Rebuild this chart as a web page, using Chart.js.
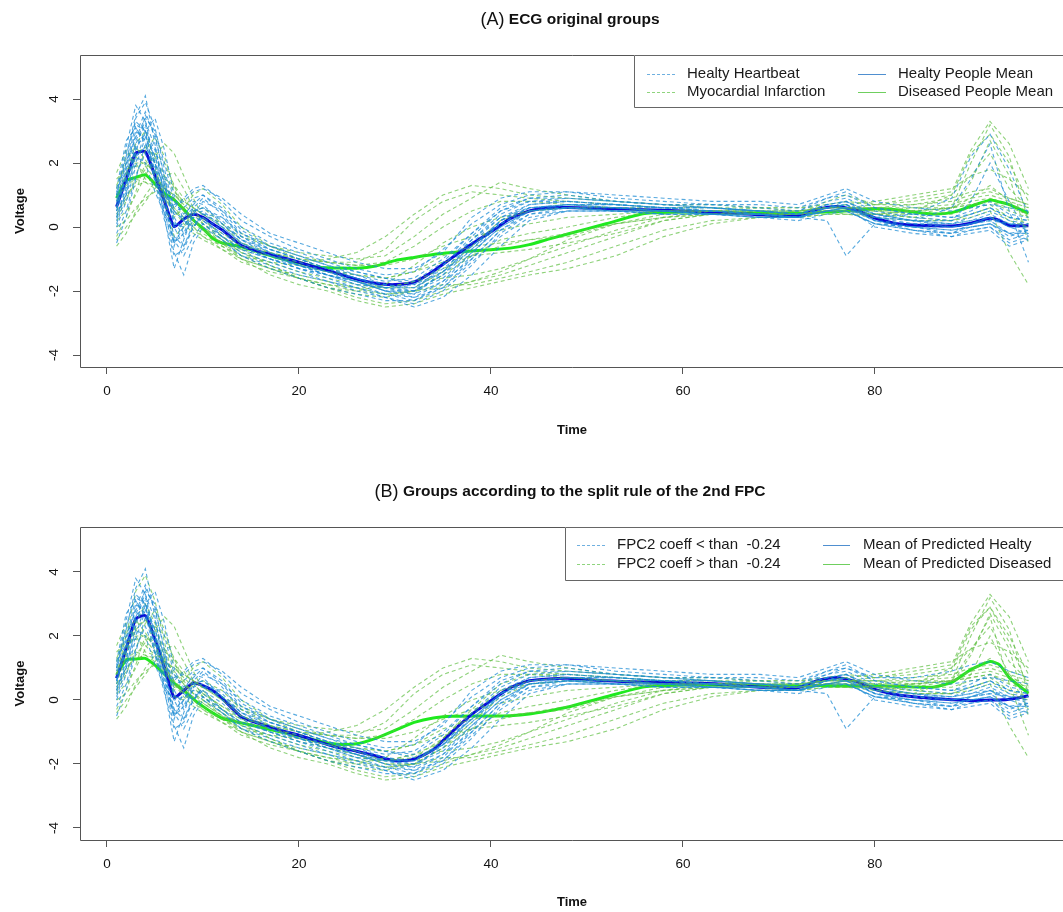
<!DOCTYPE html>
<html>
<head>
<meta charset="utf-8">
<title>ECG groups</title>
<script src="https://cdn.jsdelivr.net/npm/chart.js@4.4.1/dist/chart.umd.min.js"></script>
<style>
  html, body { margin: 0; padding: 0; background: #fff; }
  .panel { position: relative; width: 1063px; height: 456px; }
</style>
</head>
<body>
<div class="panel"><canvas id="chartA"></canvas></div>
<div class="panel"><canvas id="chartB"></canvas></div>
<script>
const timeKnots = [1, 2, 3, 4, 5, 6, 7, 8, 9, 10, 12, 14, 17, 20, 23, 26, 29, 32, 35, 38,
  41, 44, 48, 53, 58, 63, 68, 72, 75, 77, 80, 84, 88, 90, 92, 94, 96];

// individual heartbeats (voltage at each time knot)
const beatH1 = [0.9, 2.2, 3.5, 4.1, 2.6, 0.9, -0.6, 0.3, 0.8, 0.7, 0.1, -0.4, -0.8, -1.1, -1.4, -1.7, -2.0, -2.1, -1.4, -0.4,
  0.4, 0.8, 0.9, 0.8, 0.7, 0.6, 0.5, 0.4, 0.7, 0.8, 0.4, 0.2, 0.1, 0.3, 0.5, 0.2, 0.1];
const beatH2 = [0.3, 1.2, 2.6, 3.2, 1.9, 0.3, -1.3, -0.4, 0.4, 0.5, 0.0, -0.5, -0.9, -1.2, -1.5, -1.8, -2.1, -2.3, -1.8, -0.9,
  0.2, 0.6, 0.7, 0.6, 0.6, 0.5, 0.4, 0.3, 0.6, 0.7, 0.2, -0.1, -0.2, 0.0, 0.1, -0.3, -0.1];
const beatH3 = [1.2, 2.7, 3.1, 2.6, 1.8, 1.0, 0.5, 0.6, 0.9, 1.0, 0.6, -0.1, -0.6, -0.9, -1.2, -1.5, -1.7, -1.6, -1.0, -0.2,
  0.5, 0.9, 1.0, 0.8, 0.7, 0.7, 0.6, 0.5, 0.8, 0.9, 0.5, 0.3, 0.2, 0.4, 0.6, 0.3, 0.2];
const beatH4 = [0.0, 0.8, 1.9, 2.8, 2.2, 1.0, -0.3, -0.6, 0.1, 0.3, -0.3, -0.8, -1.1, -1.4, -1.7, -1.9, -2.2, -2.4, -2.0, -1.2,
  -0.2, 0.4, 0.6, 0.5, 0.5, 0.4, 0.3, 0.3, 0.5, 0.6, 0.0, -0.2, -0.3, -0.1, 0.0, -0.5, -0.3];
const beatH5 = [0.6, 1.7, 2.9, 3.6, 2.8, 1.6, 0.3, -0.2, 0.5, 0.6, 0.2, -0.4, -0.7, -1.0, -1.3, -1.5, -1.8, -1.9, -1.3, -0.6,
  0.1, 0.6, 0.7, 0.7, 0.6, 0.5, 0.5, 0.4, 0.7, 0.6, 0.3, 0.1, 0.1, 0.2, 0.3, 0.0, 0.0];
const beatH6 = [0.8, 1.5, 2.2, 2.5, 2.0, 1.2, 0.4, 0.3, 0.6, 0.4, 0.0, -0.5, -0.9, -1.2, -1.4, -1.6, -1.9, -1.8, -1.2, -0.4,
  0.3, 0.6, 0.7, 0.6, 0.5, 0.4, 0.4, 0.3, 0.5, 0.6, 0.3, 0.4, 0.9, 2.2, 2.9, 1.8, 0.4];
const beatH7 = [-0.2, 0.5, 1.6, 2.3, 1.5, 0.5, -0.8, -1.5, -0.5, 0.0, -0.4, -0.9, -1.2, -1.5, -1.7, -2.0, -2.2, -2.5, -2.2, -1.5,
  -0.6, 0.2, 0.5, 0.5, 0.4, 0.4, 0.3, 0.2, 0.4, 0.5, 0.1, -0.1, -0.2, -0.1, 0.0, -0.4, -0.2];
const beatH8 = [1.0, 2.5, 3.8, 3.3, 2.0, 1.2, 0.6, 0.9, 1.2, 1.3, 0.8, 0.2, -0.3, -0.7, -1.0, -1.3, -1.5, -1.4, -0.7, 0.1,
  0.7, 1.0, 1.1, 0.9, 0.8, 0.7, 0.7, 0.6, 0.9, 1.1, 0.6, 0.4, 0.3, 0.5, 0.8, 0.4, 0.3];
const beatH9 = [0.5, 1.4, 2.4, 3.0, 2.4, 1.3, 0.1, 0.0, 0.3, 0.2, -0.2, -0.6, -1.0, -1.3, -1.5, -1.7, -2.0, -2.0, -1.5, -0.7,
  0.1, 0.5, 0.6, 0.6, 0.5, 0.5, 0.4, 0.3, 0.6, 0.7, 0.3, 0.2, 0.6, 1.5, 2.6, 0.5, -1.1];
const beatH10 = [0.4, 1.0, 2.0, 3.0, 3.4, 2.4, 1.0, 0.2, 0.0, 0.4, 0.3, -0.2, -0.7, -1.0, -1.3, -1.6, -1.8, -2.0, -1.6, -0.8,
  0.0, 0.5, 0.7, 0.7, 0.6, 0.6, 0.5, 0.4, 0.6, 0.8, 0.4, 0.2, 0.0, 0.1, 0.2, -0.2, -0.4];
const beatH11 = [0.7, 1.9, 3.2, 3.0, 1.5, 0.4, -0.5, 0.0, 0.6, 0.9, 0.4, -0.3, -0.7, -1.0, -1.3, -1.6, -1.9, -2.0, -1.5, -0.5,
  0.3, 0.7, 0.8, 0.7, 0.6, 0.5, 0.4, 0.3, 0.2, -0.9, 0.1, 0.0, 0.0, 0.1, 0.2, 0.1, 0.0];
const beatH12 = [0.2, 1.1, 2.2, 2.0, 1.1, 0.4, 0.0, 0.1, 0.3, 0.2, -0.3, -0.7, -1.0, -1.3, -1.5, -1.8, -1.9, -1.9, -1.4, -0.6,
  0.2, 0.6, 0.6, 0.5, 0.4, 0.4, 0.3, 0.3, 0.6, 0.6, 0.2, 0.1, 0.0, 0.1, 0.3, 0.1, -0.1];
const beatH13 = [0.5, 1.8, 3.0, 2.7, 1.4, 0.2, -0.9, -0.7, 0.0, 0.3, -0.1, -0.6, -1.0, -1.3, -1.6, -1.9, -2.1, -2.2, -1.7, -0.8,
  0.0, 0.5, 0.6, 0.5, 0.5, 0.5, 0.4, 0.3, 0.5, 0.6, 0.2, 0.0, -0.1, 0.0, 0.1, -0.2, -0.1];
const beatH14 = [1.1, 2.0, 2.8, 3.4, 3.0, 2.0, 0.8, 0.4, 0.7, 1.0, 0.5, 0.0, -0.5, -0.8, -1.1, -1.4, -1.6, -1.7, -1.1, -0.2,
  0.6, 0.9, 0.9, 0.8, 0.7, 0.6, 0.5, 0.5, 0.9, 1.0, 0.6, 0.4, 0.3, 0.4, 0.6, 0.3, 0.2];
const beatH15 = [-0.5, 0.3, 1.5, 2.6, 2.0, 0.7, -0.5, -0.2, 0.2, 0.1, -0.4, -0.9, -1.3, -1.6, -1.9, -2.1, -2.3, -2.3, -1.9, -1.0,
  -0.1, 0.5, 0.6, 0.6, 0.5, 0.4, 0.4, 0.3, 0.5, 0.5, 0.1, -0.1, -0.3, -0.2, -0.1, -0.6, -0.4];
const beatH16 = [1.0, 2.3, 3.3, 3.0, 2.2, 1.4, 0.7, 0.8, 1.1, 1.2, 0.9, 0.4, -0.2, -0.5, -0.8, -1.1, -1.3, -1.3, -0.8, 0.3,
  0.9, 1.1, 1.1, 1.0, 0.9, 0.8, 0.8, 0.7, 1.0, 1.2, 0.8, 0.6, 0.5, 0.6, 0.7, 0.6, 0.5];
const beatH17 = [0.3, 1.3, 2.5, 2.9, 1.7, 0.6, -0.4, -0.9, -0.3, 0.1, -0.3, -0.7, -1.0, -1.2, -1.5, -1.7, -1.9, -2.1, -1.7, -1.0,
  -0.1, 0.4, 0.5, 0.5, 0.5, 0.4, 0.4, 0.3, 0.5, 0.5, 0.1, 0.0, -0.1, 0.0, 0.1, -0.2, -0.2];
const beatH18 = [0.8, 2.0, 3.4, 3.9, 3.1, 1.8, 0.5, 0.2, 0.5, 0.6, 0.3, -0.3, -0.8, -1.2, -1.5, -1.7, -2.0, -2.0, -1.2, -0.3,
  0.5, 0.8, 0.8, 0.7, 0.6, 0.6, 0.5, 0.4, 0.6, 0.7, 0.4, 0.2, 0.2, 0.8, 2.0, 0.8, -0.3];
const beatH19 = [0.6, 1.5, 2.7, 3.3, 2.5, 1.3, 0.2, -0.3, 0.4, 0.8, 0.5, -0.2, -0.6, -0.9, -1.2, -1.4, -1.6, -1.8, -1.4, -0.7,
  0.2, 0.7, 0.8, 0.7, 0.6, 0.6, 0.5, 0.4, 0.7, 0.8, 0.3, 0.2, 0.1, 0.2, 0.4, 0.1, 0.1];
const beatH20 = [0.1, 1.0, 2.3, 3.5, 2.9, 1.5, 0.0, -0.6, 0.0, 0.4, 0.1, -0.4, -0.9, -1.2, -1.4, -1.7, -2.0, -2.2, -1.9, -1.1,
  -0.3, 0.3, 0.5, 0.5, 0.4, 0.4, 0.3, 0.3, 0.6, 0.7, 0.2, 0.0, -0.2, 0.1, 0.3, 0.0, -0.2];

const beatD1 = [-0.6, -0.2, 0.5, 1.0, 1.4, 1.3, 0.8, 0.5, 0.2, 0.0, -0.4, -0.8, -1.1, -1.4, -1.6, -1.8, -1.9, -1.7, -1.6, -1.5,
  -1.3, -1.0, -0.6, -0.1, 0.3, 0.4, 0.4, 0.4, 0.5, 0.5, 0.5, 0.6, 0.6, 0.8, 0.9, 0.7, 0.5];
const beatD2 = [1.3, 2.0, 2.2, 1.9, 1.5, 1.2, 0.9, 0.5, 0.2, -0.1, -0.5, -0.7, -0.9, -1.1, -1.0, -0.8, -0.3, 0.4, 1.0, 1.3,
  1.2, 1.0, 0.9, 0.8, 0.7, 0.6, 0.6, 0.5, 0.6, 0.6, 0.7, 0.8, 1.0, 1.6, 2.3, 1.2, 0.6];
const beatD3 = [0.8, 1.6, 2.0, 2.0, 1.7, 1.1, 0.5, 0.2, 0.0, -0.2, -0.6, -1.0, -1.3, -1.5, -1.7, -1.9, -2.1, -2.0, -1.9, -1.7,
  -1.5, -1.2, -0.8, -0.3, 0.2, 0.4, 0.4, 0.5, 0.5, 0.6, 0.5, 0.4, 0.6, 2.0, 3.2, 2.2, 0.2];
const beatD4 = [0.2, 0.5, 1.0, 1.6, 2.2, 2.6, 2.3, 1.6, 0.9, 0.3, -0.3, -0.6, -0.8, -1.0, -1.1, -1.2, -1.1, -0.6, 0.0, 0.5,
  0.8, 0.8, 0.7, 0.6, 0.6, 0.5, 0.5, 0.4, 0.5, 0.4, 0.4, 0.5, 0.6, 0.9, 1.3, 0.8, 0.3];
const beatD5 = [1.7, 2.4, 2.0, 1.5, 1.4, 1.6, 1.7, 1.2, 0.6, 0.1, -0.4, -0.8, -1.2, -1.6, -1.9, -2.2, -2.4, -2.3, -2.0, -1.7,
  -1.4, -1.0, -0.4, 0.1, 0.4, 0.5, 0.5, 0.4, 0.5, 0.5, 0.4, 0.3, 0.2, 0.3, 0.5, -0.8, -1.8];
const beatD6 = [-0.3, 0.3, 1.1, 2.0, 1.8, 1.0, 0.3, 0.6, 1.0, 1.2, 0.7, 0.0, -0.6, -1.0, -1.3, -1.5, -1.6, -1.4, -0.9, -0.6,
  -0.5, -0.4, -0.3, 0.1, 0.3, 0.5, 0.6, 0.6, 0.7, 0.8, 0.7, 0.9, 1.1, 2.4, 3.3, 2.6, 1.2];
const beatD7 = [0.9, 1.3, 1.5, 1.4, 1.3, 1.2, 1.0, 0.8, 0.6, 0.4, 0.0, -0.3, -0.6, -0.8, -0.9, -1.0, -0.9, -0.3, 0.4, 0.9,
  1.4, 1.2, 1.0, 0.8, 0.7, 0.7, 0.6, 0.6, 0.6, 0.7, 0.8, 1.0, 1.2, 1.6, 1.8, 1.5, 1.0];
const beatD8 = [0.4, 0.9, 1.4, 1.8, 2.3, 2.0, 1.3, 0.6, 0.2, 0.0, -0.5, -1.0, -1.5, -1.8, -2.0, -2.3, -2.5, -2.4, -2.1, -1.9,
  -1.7, -1.5, -1.3, -0.9, -0.3, 0.1, 0.3, 0.3, 0.4, 0.4, 0.3, 0.2, 0.2, 0.4, 0.6, 0.2, 0.0];
const beatD9 = [0.6, 1.6, 2.6, 3.0, 2.0, 0.8, -0.3, 0.0, 0.5, 0.6, 0.1, -0.5, -0.9, -1.2, -1.4, -1.7, -1.9, -1.9, -1.4, -0.6,
  0.2, 0.5, 0.6, 0.6, 0.5, 0.5, 0.4, 0.4, 0.8, 1.0, 0.7, 0.7, 0.9, 1.1, 1.2, 0.9, 0.7];
const beatD10 = [1.5, 1.8, 1.9, 1.7, 1.4, 1.0, 0.6, 0.3, 0.1, -0.1, -0.5, -0.9, -1.3, -1.6, -1.9, -2.0, -1.8, -1.2, -0.5, 0.0,
  0.3, 0.5, 0.6, 0.5, 0.5, 0.5, 0.4, 0.4, 0.5, 0.6, 0.5, 0.5, 0.6, 0.7, 0.8, 0.5, 0.3];
const beatD11 = [0.0, 0.2, 0.6, 0.9, 1.1, 1.0, 0.6, 0.2, -0.1, -0.3, -0.6, -0.9, -1.1, -1.2, -1.4, -1.5, -1.6, -1.4, -1.1, -0.9,
  -0.8, -0.7, -0.5, -0.2, 0.2, 0.4, 0.5, 0.5, 0.6, 0.6, 0.6, 0.6, 0.7, 0.9, 1.0, 0.8, 0.6];
const beatD12 = [1.0, 1.7, 2.3, 2.5, 2.2, 1.6, 1.1, 0.8, 0.6, 0.4, 0.1, -0.2, -0.6, -0.9, -1.1, -1.1, -0.7, 0.2, 0.8, 1.1,
  1.0, 0.9, 0.8, 0.7, 0.6, 0.6, 0.5, 0.5, 0.6, 0.6, 0.6, 0.5, 0.6, 0.7, 0.8, 0.6, 0.4];
const beatD13 = [0.5, 1.0, 1.3, 1.4, 1.2, 0.9, 0.5, 0.1, -0.2, -0.4, -0.7, -1.0, -1.3, -1.6, -1.8, -2.0, -2.1, -2.0, -1.8, -1.8,
  -1.6, -1.4, -1.1, -0.6, -0.1, 0.2, 0.3, 0.3, 0.4, 0.4, 0.4, 0.3, 0.5, 1.4, 2.7, 1.6, -0.5];
const beatD14 = [-0.4, 0.0, 0.4, 0.8, 1.2, 1.5, 1.3, 0.9, 0.5, 0.2, -0.2, -0.5, -0.8, -1.0, -1.1, -1.2, -1.2, -1.0, -0.6, -0.3,
  -0.1, 0.1, 0.3, 0.4, 0.5, 0.5, 0.5, 0.5, 0.6, 0.6, 0.6, 0.7, 0.8, 1.0, 1.1, 0.9, 0.7];
const beatD15 = [1.2, 2.2, 2.5, 2.1, 1.6, 1.2, 1.0, 0.7, 0.4, 0.1, -0.3, -0.7, -1.2, -1.6, -1.9, -2.1, -2.2, -2.0, -1.5, -0.9,
  -0.4, -0.2, 0.0, 0.3, 0.5, 0.5, 0.5, 0.4, 0.5, 0.5, 0.4, 0.4, 0.4, 0.6, 0.7, 0.3, 0.1];
const beatD16 = [0.3, 0.8, 1.6, 2.4, 2.8, 2.2, 1.2, 0.5, 0.0, -0.3, -0.7, -1.1, -1.4, -1.6, -1.8, -1.9, -1.9, -1.7, -1.3, -0.9,
  -0.6, -0.4, -0.2, 0.1, 0.3, 0.4, 0.4, 0.4, 0.5, 0.5, 0.4, 0.5, 1.0, 2.3, 2.9, 2.0, 0.8];

const beats = [beatH1, beatH2, beatH3, beatH4, beatH5, beatH6, beatH7, beatH8, beatH9, beatH10,
  beatH11, beatH12, beatH13, beatH14, beatH15, beatH16, beatH17, beatH18, beatH19, beatH20,
  beatD1, beatD2, beatD3, beatD4, beatD5, beatD6, beatD7, beatD8,
  beatD9, beatD10, beatD11, beatD12, beatD13, beatD14, beatD15, beatD16];

// h = healthy / predicted healthy, d = diseased / predicted diseased
const groupA = ['h','h','h','h','h','h','h','h','h','h', 'h','h','h','h','h','h','h','h','h','h',
  'd','d','d','d','d','d','d','d', 'd','d','d','d','d','d','d','d'];
const groupB = ['h','h','h','h','h','d','h','h','d','h', 'h','h','h','h','h','h','h','d','h','h',
  'd','d','d','d','d','d','d','d', 'h','d','d','d','d','d','d','d'];

// group means
const meanTime = [1, 2, 3, 4, 5, 6, 7, 8, 9, 10, 11, 12, 14, 16, 18, 20, 22, 24, 26, 28, 30, 32, 34, 36, 38, 40, 42, 44, 46, 48,
  52, 56, 60, 64, 68, 72, 74, 76, 78, 80, 82, 84, 86, 88, 90, 92, 93, 94, 96];
const healthyMeanA = [0.63, 1.5, 2.31, 2.35, 1.6, 0.8, 0.01, 0.25, 0.4, 0.3, 0.1, -0.09, -0.58, -0.78, -0.93, -1.1, -1.28, -1.45, -1.63, -1.76, -1.8,
  -1.72, -1.38, -0.95, -0.53, -0.15, 0.26, 0.5, 0.6, 0.61, 0.58, 0.54, 0.5, 0.45, 0.38, 0.35,
  0.55, 0.64, 0.53, 0.28, 0.12, 0.06, 0.04, 0.03, 0.12, 0.27, 0.2, 0.05, 0.04];
const diseasedMeanA = [0.9, 1.45, 1.55, 1.63, 1.35, 1.05, 0.85, 0.55, 0.22, -0.05, -0.35, -0.5, -0.62, -0.8, -0.98, -1.12, -1.26, -1.28, -1.29, -1.22, -1.05,
  -0.95, -0.86, -0.8, -0.75, -0.71, -0.66, -0.55, -0.38, -0.22, 0.1, 0.42, 0.47, 0.45, 0.43, 0.43,
  0.46, 0.48, 0.52, 0.57, 0.55, 0.47, 0.41, 0.45, 0.65, 0.84, 0.78, 0.7, 0.43];
const healthyMeanB = [0.68, 1.6, 2.53, 2.63, 1.9, 1.0, 0.08, 0.3, 0.54, 0.45, 0.3, 0.05, -0.52, -0.75, -0.94, -1.1, -1.3, -1.48, -1.6, -1.75, -1.9,
  -1.85, -1.55, -0.98, -0.45, -0.02, 0.38, 0.6, 0.66, 0.68, 0.6, 0.56, 0.54, 0.5, 0.4, 0.39,
  0.6, 0.7, 0.58, 0.33, 0.18, 0.1, 0.05, 0.01, -0.02, 0.0, 0.0, 0.02, 0.13];
const diseasedMeanB = [0.78, 1.25, 1.28, 1.3, 1.09, 0.8, 0.52, 0.3, 0.03, -0.2, -0.4, -0.57, -0.72, -0.85, -0.99, -1.12, -1.28, -1.38, -1.37, -1.2, -0.95,
  -0.7, -0.56, -0.51, -0.5, -0.5, -0.49, -0.44, -0.34, -0.22, 0.1, 0.41, 0.47, 0.47, 0.45, 0.44,
  0.45, 0.44, 0.44, 0.44, 0.43, 0.41, 0.4, 0.55, 0.95, 1.2, 1.1, 0.7, 0.21];

const xTicks = [0, 20, 40, 60, 80];
const yTicks = [-4, -2, 0, 2, 4];

const FONT = '"Liberation Sans", Arial, sans-serif';
const BLUE_DASH = 'rgba(30, 140, 212, 0.75)';
const GREEN_DASH = 'rgba(100, 192, 72, 0.72)';

function toPoints(xs, ys) {
  return xs.map((x, i) => ({ x: x, y: ys[i] }));
}

// R style frame, rotated y labels, titles and the boxed legend
const rStylePlugin = {
  id: 'rStyle',
  afterDraw(chart, args, o) {
    const ctx = chart.ctx;
    const a = chart.chartArea;
    const ys = chart.scales.y;
    ctx.save();
    // box (right side falls outside the picture)
    ctx.strokeStyle = '#555';
    ctx.lineWidth = 1;
    ctx.beginPath();
    ctx.moveTo(chart.width + 2, a.top + 0.5);
    ctx.lineTo(a.left + 0.5, a.top + 0.5);
    ctx.lineTo(a.left + 0.5, a.bottom + 0.5);
    ctx.lineTo(chart.width + 2, a.bottom + 0.5);
    ctx.stroke();

    // y tick labels, rotated like R's las=0
    ctx.fillStyle = '#111';
    ctx.font = '13.5px ' + FONT;
    ctx.textAlign = 'center';
    ctx.textBaseline = 'middle';
    yTicks.forEach(v => {
      const py = ys.getPixelForValue(v);
      ctx.save();
      ctx.translate(54, py);
      ctx.rotate(-Math.PI / 2);
      ctx.fillText(String(v), 0, 0);
      ctx.restore();
    });

    // axis titles
    ctx.font = 'bold 13px ' + FONT;
    ctx.save();
    ctx.translate(20, (a.top + a.bottom) / 2);
    ctx.rotate(-Math.PI / 2);
    ctx.fillText('Voltage', 0, 0);
    ctx.restore();
    ctx.fillText('Time', 572, o.timeY);

    // main title: "(A)" plain, rest bold
    const fPlain = '18px ' + FONT;
    const fBold = 'bold 15.5px ' + FONT;
    ctx.font = fPlain;
    const w1 = ctx.measureText(o.titleTag).width;
    ctx.font = fBold;
    const w2 = ctx.measureText(o.titleText).width;
    const tx = 570 - (w1 + w2) / 2;
    ctx.textAlign = 'left';
    ctx.font = fPlain;
    ctx.fillText(o.titleTag, tx, o.titleY);
    ctx.font = fBold;
    ctx.fillText(o.titleText, tx + w1, o.titleY);

    // legend
    const L = o.legend;
    ctx.fillStyle = '#fff';
    ctx.fillRect(L.left, a.top, chart.width - L.left + 2, L.bottom - a.top);
    ctx.strokeStyle = '#666';
    ctx.beginPath();
    ctx.moveTo(chart.width + 2, a.top + 0.5);
    ctx.lineTo(L.left + 0.5, a.top + 0.5);
    ctx.lineTo(L.left + 0.5, L.bottom + 0.5);
    ctx.lineTo(chart.width + 2, L.bottom + 0.5);
    ctx.stroke();
    ctx.font = '15px ' + FONT;
    ctx.textBaseline = 'middle';
    L.items.forEach(it => {
      ctx.strokeStyle = it.color;
      ctx.lineWidth = 1;
      ctx.setLineDash(it.dash ? [3, 2] : []);
      ctx.beginPath();
      ctx.moveTo(it.x0, it.y + 0.5);
      ctx.lineTo(it.x1, it.y + 0.5);
      ctx.stroke();
      ctx.setLineDash([]);
      ctx.fillStyle = '#1a1a1a';
      ctx.fillText(it.text, it.tx, it.y);
    });
    ctx.restore();
  }
};

function makePanel(id, cfg) {
  const datasets = [];
  // blue traces first, green after
  ['h', 'd'].forEach(g => {
    beats.forEach((b, i) => {
      if (cfg.groups[i] !== g) return;
      datasets.push({
        data: toPoints(timeKnots, b),
        borderColor: g === 'h' ? BLUE_DASH : GREEN_DASH,
        borderWidth: 1.1,
        borderDash: [4, 3],
        pointRadius: 0,
        tension: 0,
        fill: false
      });
    });
  });
  datasets.push({
    data: toPoints(meanTime, cfg.healthyMean),
    borderColor: '#0a0ad8', borderWidth: 3, pointRadius: 0, tension: 0.2, fill: false
  });
  datasets.push({
    data: toPoints(meanTime, cfg.diseasedMean),
    borderColor: '#1eea1e', borderWidth: 3, pointRadius: 0, tension: 0.2, fill: false
  });

  return new Chart(document.getElementById(id), {
    type: 'line',
    data: { datasets: datasets },
    options: {
      responsive: true,
      maintainAspectRatio: false,
      animation: false,
      layout: { padding: { top: cfg.top, left: 0, right: 0, bottom: 0 } },
      plugins: {
        legend: { display: false },
        tooltip: { enabled: false },
        title: { display: false },
        rStyle: cfg.deco
      },
      scales: {
        x: {
          type: 'linear',
          min: -2.81,
          max: 99.6,
          afterFit: s => { s.height = cfg.bottom; },
          afterBuildTicks: s => { s.ticks = xTicks.map(v => ({ value: v })); },
          ticks: { color: '#111', font: { family: FONT, size: 13.5 }, padding: 9, maxRotation: 0, autoSkip: false },
          grid: { drawOnChartArea: false, drawTicks: true, tickLength: 7, color: '#555' },
          border: { display: false }
        },
        y: {
          type: 'linear',
          min: -4.375,
          max: cfg.yMax,
          afterFit: s => { s.width = 80; },
          afterBuildTicks: s => { s.ticks = yTicks.map(v => ({ value: v })); },
          ticks: { display: false },
          grid: { drawOnChartArea: false, drawTicks: true, tickLength: 7, color: '#555' },
          border: { display: false }
        }
      }
    },
    plugins: [rStylePlugin]
  });
}

makePanel('chartA', {
  groups: groupA, healthyMean: healthyMeanA, diseasedMean: diseasedMeanA,
  top: 55, bottom: 89, yMax: 5.375,
  deco: {
    titleTag: '(A)', titleText: ' ECG original groups', titleY: 20, timeY: 430,
    legend: {
      left: 634, bottom: 107,
      items: [
        { x0: 647, x1: 675, y: 74, tx: 687, dash: true, color: '#6fb0e0', text: 'Healty Heartbeat' },
        { x0: 647, x1: 675, y: 92, tx: 687, dash: true, color: '#8fd47e', text: 'Myocardial Infarction' },
        { x0: 858, x1: 886, y: 74, tx: 898, dash: false, color: '#4f8fd0', text: 'Healty People Mean' },
        { x0: 858, x1: 886, y: 92, tx: 898, dash: false, color: '#6fcf5e', text: 'Diseased People Mean' }
      ]
    }
  }
});

makePanel('chartB', {
  groups: groupB, healthyMean: healthyMeanB, diseasedMean: diseasedMeanB,
  top: 71, bottom: 72, yMax: 5.406,
  deco: {
    titleTag: '(B)', titleText: ' Groups according to the split rule of the 2nd FPC', titleY: 36, timeY: 446,
    legend: {
      left: 565, bottom: 124,
      items: [
        { x0: 577, x1: 605, y: 89, tx: 617, dash: true, color: '#6fb0e0', text: 'FPC2 coeff < than  -0.24' },
        { x0: 577, x1: 605, y: 108, tx: 617, dash: true, color: '#8fd47e', text: 'FPC2 coeff > than  -0.24' },
        { x0: 823, x1: 850, y: 89, tx: 863, dash: false, color: '#4f8fd0', text: 'Mean of Predicted Healty' },
        { x0: 823, x1: 850, y: 108, tx: 863, dash: false, color: '#6fcf5e', text: 'Mean of Predicted Diseased' }
      ]
    }
  }
});
</script>
</body>
</html>
